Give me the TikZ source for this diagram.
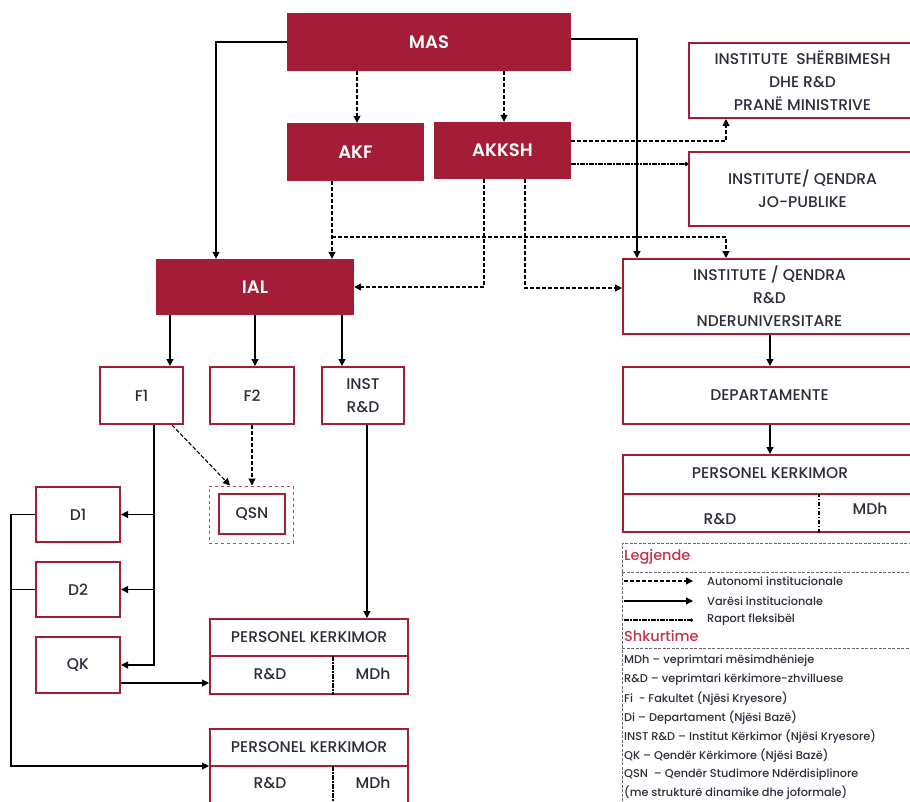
\documentclass[tikz,border=0pt]{standalone}
\usepackage{fontspec}
\setmainfont{Poppins}[UprightFont={* Medium},BoldFont={* SemiBold}]
\usetikzlibrary{arrows.meta}
\definecolor{akred}{RGB}{163,29,54}
\definecolor{legred}{RGB}{196,50,78}
\definecolor{txt}{RGB}{45,45,58}

\begin{document}
\begin{tikzpicture}[x=1pt,y=-1pt,
  redbox/.style={fill=akred,text=white,font=\bfseries\fontsize{18}{18}\selectfont,inner sep=0pt},
  wbox/.style={draw=akred,line width=2pt,text=txt,font=\fontsize{15.5}{23}\selectfont,align=center,inner sep=0pt},
  lbl/.style={text=txt,font=\fontsize{15.5}{15.5}\selectfont,inner sep=0pt},
  varesi/.style={line width=1.1pt,-{Triangle[length=7pt,width=7pt]}},
  autonomi/.style={varesi,dash pattern=on 4pt off 2pt},
  fleks/.style={line width=1.2pt,dash pattern=on 4.5pt off 1.5pt on 1.5pt off 1.5pt},
  leg/.style={text=txt,font=\fontsize{11.3}{11.3}\selectfont,anchor=west,inner sep=0pt},
  leghead/.style={text=legred,font=\fontsize{14.5}{14.5}\selectfont,anchor=west,inner sep=0pt}]
\useasboundingbox (0,0) rectangle (910,801);
\clip (0,0) rectangle (910,801);

% red boxes
\node[redbox,minimum width=284,minimum height=58] (MAS) at (429,42) {MAS};
\node[redbox,minimum width=137,minimum height=58] (AKF) at (355.5,152) {AKF};
\node[redbox,minimum width=137,minimum height=57] (AKKSH) at (502.5,150.5) {AKKSH};
\node[redbox,minimum width=198,minimum height=56] (IAL) at (255,287) {IAL};

% right column
\node[wbox,minimum width=227,minimum height=75] (SHERB) at (802.5,80.5) {INSTITUTE\ \ SHËRBIMESH\\DHE R\&D\\PRANË MINISTRIVE};
\node[wbox,minimum width=227,minimum height=74] (JOPUB) at (802.5,189) {INSTITUTE/ QENDRA\\JO-PUBLIKE};
\node[wbox,minimum width=293,minimum height=75] (NDU) at (769.5,296.5) {INSTITUTE / QENDRA\\R\&D\\NDERUNIVERSITARE};
\node[wbox,minimum width=293,minimum height=57] (DEP) at (769.5,395.5) {DEPARTAMENTE};
\node[wbox,minimum width=293,minimum height=77] (PK0) at (769.5,493.5) {};
\node[lbl] (PK0t) at (770,473) {PERSONEL KERKIMOR};
\node[lbl] (PK0a) at (720,519) {R\&D};
\node[lbl] (PK0b) at (870,509) {MDh};
\draw[akred,line width=2pt] (PK0.west |- 0,494) -- (PK0.east |- 0,494);
\draw[fleks] (819,0 |- PK0.south) -- (819,494);

% faculties
\node[wbox,minimum width=83,minimum height=57] (F1) at (141.5,395.5) {F1};
\node[wbox,minimum width=84,minimum height=57] (F2) at (252,395.5) {F2};
\node[wbox,minimum width=82,minimum height=57] (INST) at (363,395.5) {INST\\R\&D};
\node[draw=akred!80,dashed,line width=1pt,minimum width=84,minimum height=57] (QSNo) at (251,514.5) {};
\node[wbox,minimum width=66,minimum height=40] (QSN) at (252,514) {QSN};
\node[wbox,minimum width=84,minimum height=55] (D1) at (78,514.5) {D1};
\node[wbox,minimum width=84,minimum height=55] (D2) at (78,589.5) {D2};
\node[wbox,minimum width=84,minimum height=56] (QK) at (78,665) {QK};

% personel boxes
\node[wbox,minimum width=198,minimum height=75] (PK1) at (309,656.5) {};
\node[lbl] (PK1t) at (309,637.5) {PERSONEL KERKIMOR};
\node[lbl] (PK1a) at (270,674) {R\&D};
\node[lbl] (PK1b) at (373,674) {MDh};
\draw[akred,line width=2pt] (PK1.west |- 0,656) -- (PK1.east |- 0,656);
\draw[fleks] (333,656) -- (333,0 |- PK1.south);
\node[wbox,minimum width=198,minimum height=76] (PK2) at (309,767) {};
\node[lbl] (PK2t) at (309,747) {PERSONEL KERKIMOR};
\node[lbl] (PK2a) at (270,783) {R\&D};
\node[lbl] (PK2b) at (373,783) {MDh};
\draw[akred,line width=2pt] (PK2.west |- 0,766) -- (PK2.east |- 0,766);
\draw[fleks] (333,766) -- (333,0 |- PK2.south);

% connectors from the top
\draw[varesi] (MAS.west) -| (216,0 |- IAL.north);
\draw[varesi] (MAS.east |- 0,39) -| (637,0 |- NDU.north);
\draw[autonomi] (357,0 |- MAS.south) -- (357,0 |- AKF.north);
\draw[autonomi] (504,0 |- MAS.south) -- (504,0 |- AKKSH.north);
\coordinate (kf) at (332,237);
\draw[autonomi] (332,0 |- AKF.south) -- (332,0 |- IAL.north);
\draw[autonomi] (kf) -| (726,0 |- NDU.north);
\draw[autonomi] (484,0 |- AKKSH.south) |- (IAL.east);
\draw[autonomi] (525,0 |- AKKSH.south) |- (NDU.west |- 0,288);
\draw[autonomi] (AKKSH.east |- 0,141) -| (726,0 |- SHERB.south);
\draw[fleks,-{Circle[length=4pt]}] (AKKSH.east |- 0,164) -- (JOPUB.west |- 0,164);
\draw[varesi] (770,0 |- NDU.south) -- (770,0 |- DEP.north);
\draw[varesi] (770,0 |- DEP.south) -- (770,0 |- PK0.north);

% connectors below IAL
\draw[varesi] (170,0 |- IAL.south) -- (170,0 |- F1.north);
\draw[varesi] (255,0 |- IAL.south) -- (255,0 |- F2.north);
\draw[varesi] (342,0 |- IAL.south) -- (342,0 |- INST.north);
\draw[varesi] (154,0 |- F1.south) |- (QK.east);
\draw[varesi] (D1.east -| 154,0) -- (D1.east);
\draw[varesi] (D2.east -| 154,0) -- (D2.east);
\draw[autonomi] (172,0 |- F1.south) -- (230,0 |- QSNo.north);
\draw[autonomi] (252,0 |- F2.south) -- (252,0 |- QSNo.north);
\draw[varesi] (367,0 |- INST.south) -- (367,0 |- PK1.north);
\draw[varesi] (QK.east |- 0,683) -- (PK1.west |- 0,683);
\draw[line width=1.1pt] (D2.west) -- (11,589.5);
\draw[varesi] (D1.west) -| (11,766) -- (PK2.west |- 0,766);

% legend
\draw[gray!80!black,line width=0.8pt,dash pattern=on 3pt off 1.5pt] (916,543) -- (622,543) -- (622,810);
\draw[gray!80!black,line width=0.8pt,dash pattern=on 3pt off 1.5pt] (622,572) -- (916,572);
\draw[gray!80!black,line width=0.8pt,dash pattern=on 3pt off 1.5pt] (622,648) -- (916,648);
\node[leghead] (legj) at (624,557) {Legjende};
\coordinate (l1a) at (624,581); \coordinate (l1b) at (693,581);
\coordinate (l2a) at (624,601); \coordinate (l2b) at (693,601);
\coordinate (l3a) at (624,620); \coordinate (l3b) at (693,620);
\draw[autonomi] (l1a) -- (l1b);
\draw[varesi] (l2a) -- (l2b);
\draw[fleks,-{Circle[length=3pt]}] (l3a) -- (l3b);
\node[leg] (lt1) at (707,581) {Autonomi institucionale};
\node[leg] (lt2) at (707,601) {Varësi institucionale};
\node[leg] (lt3) at (707,620) {Raport fleksibël};
\node[leghead] (shk) at (624,636) {Shkurtime};
\node[leg] (s1) at (624,661) {MDh – veprimtari mësimdhënieje};
\node[leg] (s2) at (624,680) {R\&D – veprimtari kërkimore-zhvilluese};
\node[leg] (s3) at (624,699) {Fi\ \ - Fakultet (Njësi Kryesore)};
\node[leg] (s4) at (624,718) {Di – Departament (Njësi Bazë)};
\node[leg] (s5) at (624,737) {INST R\&D – Institut Kërkimor (Njësi Kryesore)};
\node[leg] (s6) at (624,756) {QK – Qendër Kërkimore (Njësi Bazë)};
\node[leg] (s7) at (624,775) {QSN\ \ – Qendër Studimore Ndërdisiplinore};
\node[leg] (s8) at (624,793) {(me strukturë dinamike dhe joformale)};
\end{tikzpicture}
\end{document}
